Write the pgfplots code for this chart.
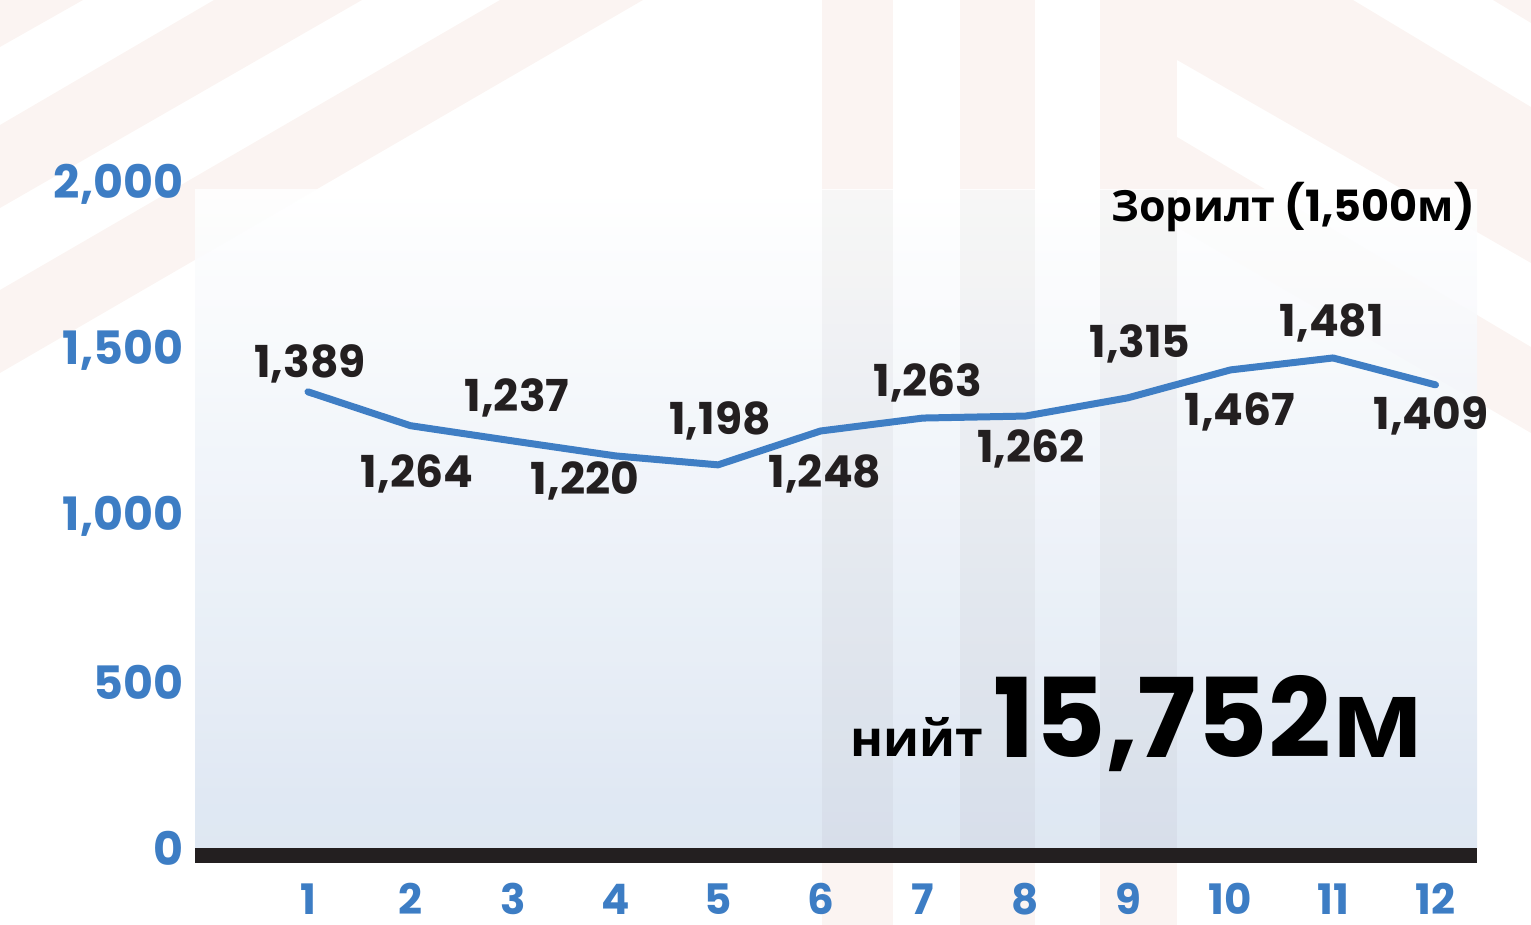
\documentclass[border=0pt]{standalone}
\usepackage{fontspec}
\setmainfont{Poppins}
\newfontfamily\cyr{Open Sans}
\usepackage{pgfplots}
\pgfplotsset{compat=1.18}
\definecolor{lineblue}{HTML}{3F7EC4}
\definecolor{tickblue}{HTML}{3D7DC4}
\definecolor{ink}{HTML}{231F20}
\definecolor{deco}{HTML}{FBF4F2}
\definecolor{boxbot}{HTML}{DAE4F1}
\begin{document}
\begin{tikzpicture}
% ---- background decoration (pixel units, y up) ----
\begin{scope}[x=0.5pt,y=0.5pt]
\path[use as bounding box] (0,0) rectangle (1531,925);
\fill[deco] (0,925)--(83,925)--(0,878)--cycle;
\fill[deco] (214,925)--(362,925)--(0,717)--(0,800)--cycle;
\fill[deco] (500,925)--(643,925)--(0,552)--(0,635)--cycle;
\fill[deco] (822,0) rectangle (893,925);
\fill[deco] (960,0) rectangle (1035,925);
\fill[deco] (1100,0) rectangle (1177,925);
\fill[deco] (1177,925)--(1353,925)--(1531,818)--(1531,662)--(1177,865)--cycle;
\fill[deco] (1493,925)--(1531,925)--(1531,902)--cycle;
\fill[deco] (1177,788)--(1531,578)--(1531,492)--(1177,698)--cycle;
\shade[top color=white, bottom color=boxbot, opacity=0.9] (195,77) rectangle (1477,735);
\fill[ink, opacity=0.03] (822,77) rectangle (893,735);
\fill[ink, opacity=0.03] (960,77) rectangle (1035,735);
\fill[ink, opacity=0.03] (1100,77) rectangle (1177,735);
% texts
\node[anchor=base east, inner sep=0pt, text=black] at (1475,703)
  {\fontsize{21.5}{21.5}\selectfont\bfseries{\cyr Зорилт} (1,500{\cyr м})};
\node[anchor=base west, inner sep=0pt, text=black] at (850,168)
  {\fontsize{25}{25}\selectfont\bfseries\cyr нийт};
\node[anchor=base west, inner sep=0pt, text=black] at (993,167)
  {\fontsize{55}{55}\selectfont\bfseries 15,752{\cyr м}};
\end{scope}
\begin{axis}[
  at={(97.5pt,38.5pt)}, anchor=south west,
  scale only axis, width=641pt, height=332pt,
  xmin=-0.1024, xmax=12.405, ymin=0, ymax=2000,
  axis lines=left, axis line style={draw=none}, tick style={draw=none},
  xtick={1,2,3,4,5,6,7,8,9,10,11,12},
  xticklabels={1,2,3,4,5,6,7,8,9,10,11,12},
  ytick={0,500,1000,1500,2000},
  yticklabels={0,500,{1,000},{1,500},{2,000}},
  yticklabel style={anchor=east, inner sep=0pt, xshift=-3.5pt, text=tickblue, font=\fontsize{23}{23}\selectfont\bfseries},
  xticklabel style={anchor=base, inner sep=0pt, text depth=0pt, yshift=-31pt, text=tickblue, font=\fontsize{21}{21}\selectfont\bfseries},
  clip=false,
]
\fill[ink] (rel axis cs:0,0) rectangle ([yshift=-7.5pt]rel axis cs:1,0);
\addplot[lineblue, line width=3.5pt, line cap=round, line join=round] coordinates {
 (1,1374) (2,1272) (3,1226) (4,1181) (5,1154) (6,1256)
 (7,1295) (8,1301) (9,1356) (10,1440) (11,1476) (12,1395)
};
\begin{scope}[every node/.style={text=ink, font=\fontsize{22}{22}\selectfont\bfseries, inner sep=0pt}]
\node at (axis cs:1.02,1458) {1,389};
\node at (axis cs:2.063,1127) {1,264};
\node at (axis cs:3.039,1355) {1,237};
\node at (axis cs:3.702,1105) {1,220};
\node at (axis cs:5.02,1286) {1,198};
\node at (axis cs:6.044,1127) {1,248};
\node at (axis cs:7.049,1401) {1,263};
\node at (axis cs:8.054,1202) {1,262};
\node at (axis cs:9.117,1518) {1,315};
\node at (axis cs:10.093,1313) {1,467};
\node at (axis cs:10.99,1581) {1,481};
\node at (axis cs:11.956,1301) {1,409};
\end{scope}
\end{axis}
\end{tikzpicture}
\end{document}
